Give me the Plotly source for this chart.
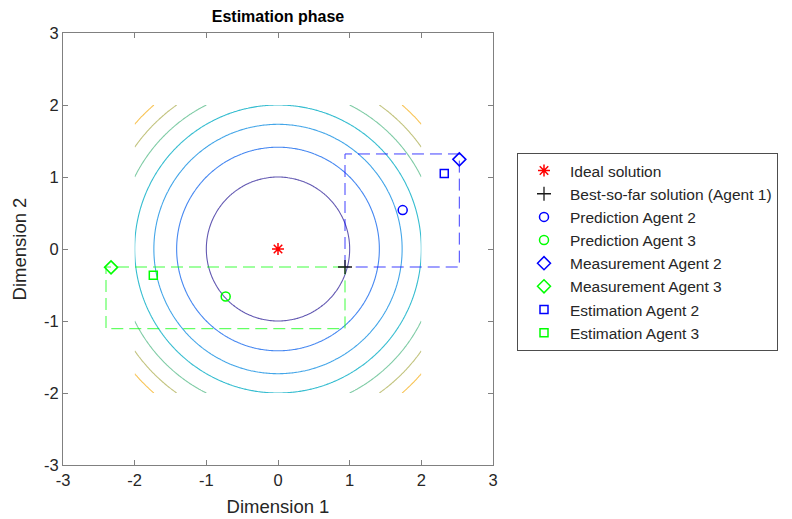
import numpy as np
import plotly.graph_objects as go

# ---- data ----
contour_levels = [1, 2, 3, 4, 5, 6, 7]
level_colors = ["#6359b2", "#4788f1", "#44a6e8", "#36bdd0", "#80cca6", "#c2c37e", "#f8c456"]
domain_min, domain_max, grid_n = -2.0, 2.0, 201

ideal_x, ideal_y = [0.0], [0.0]
best_x, best_y = [0.935], [-0.25]
pred2_x, pred2_y = [1.74], [0.54]
pred3_x, pred3_y = [-0.73], [-0.66]
meas2_x, meas2_y = [2.53], [1.245]
meas3_x, meas3_y = [-2.33], [-0.255]
est2_x, est2_y = [2.32], [1.05]
est3_x, est3_y = [-1.74], [-0.365]

box2_x = [0.935, 0.935, 2.53, 2.53, 0.935]
box2_y = [-0.25, 1.32, 1.32, -0.25, -0.25]
box3_x = [0.935, -2.40, -2.40, 0.935, 0.935]
box3_y = [-0.25, -0.25, -1.107, -1.107, -0.25]

tick_vals = [-3, -2, -1, 0, 1, 2, 3]
tick_text = ["-3", "-2", "-1", "0", "1", "2", "3"]

# ---- objective (sphere) on grid ----
gx = np.linspace(domain_min, domain_max, grid_n)
gy = np.linspace(domain_min, domain_max, grid_n)
GX, GY = np.meshgrid(gx, gy)
Z = GX**2 + GY**2

lo, hi = contour_levels[0], contour_levels[-1]
cscale = [[(lv - lo) / (hi - lo), c] for lv, c in zip(contour_levels, level_colors)]

FONT = "Liberation Sans, Arial, Helvetica, sans-serif"
BLUE = "rgb(0,0,255)"
GREEN = "rgb(0,255,0)"

# page body has an 8px default margin; figure is sized to fill the rest of the window
W, H, OFF = 784, 511, 8

fig = go.Figure()
fig.add_trace(go.Contour(
    x=gx, y=gy, z=Z,
    contours=dict(coloring="lines", start=lo, end=hi, size=1, showlabels=False),
    line=dict(width=1.1),
    colorscale=cscale, zmin=lo, zmax=hi,
    showscale=False, showlegend=False, hoverinfo="skip",
))

# dashed boxes
fig.add_trace(go.Scatter(x=box2_x, y=box2_y, mode="lines",
                         line=dict(color=BLUE, width=1, dash="12px,6px"),
                         opacity=0.75, showlegend=False, hoverinfo="skip"))
fig.add_trace(go.Scatter(x=box3_x, y=box3_y, mode="lines",
                         line=dict(color=GREEN, width=1, dash="12px,6px"),
                         opacity=0.75, showlegend=False, hoverinfo="skip"))

def mk(x, y, name, symbol, color, size, lw=1.5):
    return go.Scatter(x=x, y=y, mode="markers", name=name,
                      marker=dict(symbol=symbol, size=size, color=color,
                                  line=dict(color=color, width=lw)))

fig.add_trace(mk(ideal_x, ideal_y, "Ideal solution", "asterisk-open", "red", 10))
fig.add_trace(mk(best_x, best_y, "Best-so-far solution (Agent 1)", "cross-thin-open", "#1a1a1a", 10, 1.3))
fig.add_trace(mk(pred2_x, pred2_y, "Prediction Agent 2", "circle-open", BLUE, 9))
fig.add_trace(mk(pred3_x, pred3_y, "Prediction Agent 3", "circle-open", GREEN, 9))
fig.add_trace(mk(meas2_x, meas2_y, "Measurement Agent 2", "diamond-open", BLUE, 10))
fig.add_trace(mk(meas3_x, meas3_y, "Measurement Agent 3", "diamond-open", GREEN, 10))
fig.add_trace(mk(est2_x, est2_y, "Estimation Agent 2", "square-open", BLUE, 8))
fig.add_trace(mk(est3_x, est3_y, "Estimation Agent 3", "square-open", GREEN, 8))

axis_common = dict(
    showgrid=False, zeroline=False, showline=True, linecolor="#808080", linewidth=1,
    mirror="ticks", ticks="inside", ticklen=5, tickcolor="#808080", tickwidth=1,
    tickvals=tick_vals, ticktext=tick_text,
    tickfont=dict(family=FONT, size=16.5, color="#262626"),
    title_font=dict(family=FONT, size=18.5, color="#262626"),
    automargin=False,
)

fig.update_layout(
    width=W, height=H,
    margin=dict(l=63 - OFF, r=299, t=33 - OFF, b=54, autoexpand=False),
    paper_bgcolor="white", plot_bgcolor="white",
    title=dict(text="<b>Estimation phase</b>", xref="container", x=(278 - OFF) / W, xanchor="center",
               yref="container", y=1 - (16 - OFF) / H, yanchor="middle",
               font=dict(family=FONT, size=16, color="black")),
    xaxis=dict(range=[-3, 3], title=dict(text="Dimension 1", standoff=12), **axis_common),
    yaxis=dict(range=[-3, 3], title=dict(text="Dimension 2", standoff=12), **axis_common),
    legend=dict(xref="container", yref="container",
                x=(517 - OFF) / W, xanchor="left", y=1 - (153 - OFF) / H, yanchor="top",
                bordercolor="#4d4d4d", borderwidth=1, bgcolor="white",
                font=dict(family=FONT, size=15.5, color="#262626"),
                itemwidth=42, tracegroupgap=0),
    showlegend=True,
)

fig.write_html("out.html")
